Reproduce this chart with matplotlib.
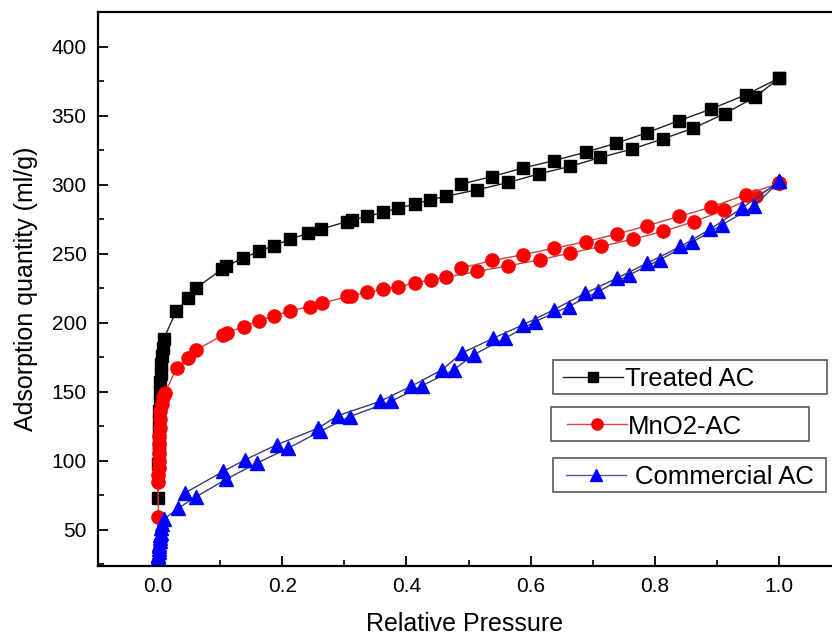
import matplotlib.pyplot as plt
from matplotlib.patches import Rectangle
from matplotlib.lines import Line2D
from matplotlib.ticker import MultipleLocator

plt.rcParams['font.family'] = ['Liberation Sans', 'DejaVu Sans']

# Treated AC
treated_ads_x = [0.0005, 0.0008, 0.001, 0.0013, 0.0016, 0.002, 0.0024, 0.0028, 0.0032, 0.0038,
                 0.0045, 0.0055, 0.0065, 0.0078, 0.009,
                 0.029, 0.048, 0.061, 0.103, 0.110, 0.137, 0.162, 0.187, 0.213, 0.242, 0.262,
                 0.305, 0.312, 0.337, 0.363, 0.387, 0.414, 0.438, 0.463, 0.514, 0.564, 0.614,
                 0.663, 0.712, 0.763, 0.813, 0.862, 0.912, 0.961, 1.0]
treated_ads_y = [73, 98, 106, 113, 121, 128, 136, 143, 150, 157, 163, 170, 176, 182, 188,
                 208.2, 217.9, 225, 238.9, 241, 246.9, 251.7, 256, 260.6, 265, 267.9,
                 273.4, 274.6, 277.1, 280.2, 283.1, 286, 289.1, 291.6, 296.4, 301.7, 308,
                 313.3, 319.8, 325.9, 333.3, 341.1, 351.5, 363.5, 377.3]
treated_des_x = [1.0, 0.946, 0.89, 0.838, 0.788, 0.738, 0.689, 0.638, 0.587, 0.538, 0.488]
treated_des_y = [377.3, 365.2, 354.8, 346.4, 337.9, 330.2, 323.7, 317.6, 312.1, 306, 300.5]

# MnO2-AC
mno2_ads_x = [0.0003, 0.0006, 0.0008, 0.001, 0.0013, 0.0016, 0.002, 0.0024, 0.0028, 0.0033,
              0.004, 0.006, 0.008, 0.011,
              0.030, 0.049, 0.062, 0.105, 0.111, 0.138, 0.162, 0.187, 0.213, 0.244, 0.264,
              0.305, 0.311, 0.337, 0.363, 0.387, 0.414, 0.44, 0.464, 0.514, 0.564, 0.615,
              0.663, 0.713, 0.764, 0.813, 0.863, 0.911, 0.963, 1.0]
mno2_ads_y = [59, 85, 90, 95, 100, 106, 112, 118, 124, 130, 136, 141, 146, 149,
              167.2, 174.4, 180.4, 191.3, 192.8, 197.3, 201.4, 205, 208.7, 211.8, 214.2,
              219.1, 219.6, 222, 224.4, 226.3, 228.8, 231.2, 233.1, 237.2, 241.3, 245.7,
              250.5, 255.3, 260.6, 266.2, 273.4, 281.4, 291.6, 301.2]
mno2_des_x = [1.0, 0.946, 0.89, 0.839, 0.788, 0.739, 0.689, 0.638, 0.587, 0.538, 0.488]
mno2_des_y = [301.2, 292.8, 283.8, 277.1, 270.5, 264.3, 258.9, 254.1, 249.3, 245.2, 239.6]

# Commercial AC
comm_ads_x = [0.0001, 0.0003, 0.0005, 0.0008, 0.001, 0.0013, 0.0016, 0.002, 0.0025, 0.003,
              0.0036, 0.0045, 0.0055, 0.007, 0.01,
              0.033, 0.062, 0.11, 0.159, 0.21, 0.261, 0.309, 0.375, 0.425, 0.476, 0.508,
              0.559, 0.607, 0.661, 0.709, 0.759, 0.808, 0.859, 0.908, 0.959, 1.0]
comm_ads_y = [26, 28, 30, 32, 34, 36, 38, 40, 42, 44, 46, 48, 51, 54, 58,
              65.7, 74.1, 86.7, 98.3, 109.2, 121.3, 132.1, 143, 154.4, 165.9, 176.8,
              188.9, 200.9, 211.8, 222.7, 234.8, 245.7, 258.2, 271, 284.3, 302.4]
comm_des_x = [1.0, 0.94, 0.889, 0.841, 0.788, 0.739, 0.688, 0.637, 0.588, 0.54, 0.489,
              0.457, 0.407, 0.357, 0.29, 0.258, 0.191, 0.14, 0.105, 0.043]
comm_des_y = [302.4, 283.1, 267.9, 255.3, 243.3, 232.4, 221.5, 209.4, 198.6, 188.9, 178,
              165.9, 153.9, 143, 132.8, 123.7, 111.6, 100.7, 92.3, 76.6]

W, H = 832, 642
fig = plt.figure(figsize=(W / 100, H / 100), dpi=100)
ax = fig.add_axes([97.7 / W, 1 - 565.7 / H, 1 - 97.7 / W, (565.7 - 12.3) / H])

ax.plot(treated_ads_x, treated_ads_y, color='#222222', lw=1, marker='s', ms=9,
        mfc='black', mec='black')
ax.plot(treated_des_x, treated_des_y, color='#222222', lw=1, marker='s', ms=9,
        mfc='black', mec='black')
ax.plot(mno2_ads_x, mno2_ads_y, color='#cc4444', lw=1, marker='o', ms=9.5,
        mfc='#ff0000', mec='#ff0000')
ax.plot(mno2_des_x, mno2_des_y, color='#cc4444', lw=1, marker='o', ms=9.5,
        mfc='#ff0000', mec='#ff0000')
ax.plot(comm_ads_x, comm_ads_y, color='#3a3a7a', lw=1, marker='^', ms=10,
        mfc='#0000ff', mec='#0000ff')
ax.plot(comm_des_x, comm_des_y, color='#3a3a7a', lw=1, marker='^', ms=10,
        mfc='#0000ff', mec='#0000ff')

ax.set_xlim(-0.097, 1.085)
ax.set_ylim(24, 425)
ax.xaxis.set_major_locator(MultipleLocator(0.2))
ax.xaxis.set_minor_locator(MultipleLocator(0.1))
ax.yaxis.set_major_locator(MultipleLocator(50))
ax.yaxis.set_minor_locator(MultipleLocator(25))
ax.set_yticks(range(50, 401, 50))
ax.set_xticks([0.0, 0.2, 0.4, 0.6, 0.8, 1.0])
ax.set_xticklabels(['0.0', '0.2', '0.4', '0.6', '0.8', '1.0'])
ax.tick_params(which='major', direction='in', length=7, width=1.3, labelsize=15, pad=8)
ax.tick_params(which='minor', direction='in', length=4, width=1.2)
ax.spines['right'].set_visible(False)
for s in ['left', 'bottom', 'top']:
    ax.spines[s].set_linewidth(1.6)

ax.set_xlabel('Relative Pressure', fontsize=18, labelpad=12)
ax.set_ylabel('Adsorption quantity (ml/g)', fontsize=18, labelpad=10)

# separate legend boxes as in the original
legend_items = [
    ('Treated AC', 's', 'black', '#222222', 9, (553, 360, 827, 394), (563, 623), 625),
    ('MnO2-AC', 'o', '#ff0000', '#dd4444', 9.5, (551, 407, 809, 441), (567, 627), 628),
    ('Commercial AC', '^', '#0000ff', '#5555aa', 10, (553, 458, 826, 492), (566, 626), 635),
]
for label, mk, mcol, lcol, ms, box, hx, tx in legend_items:
    x0, y0, x1, y1 = box
    fig.add_artist(Rectangle((x0 / W, 1 - y1 / H), (x1 - x0) / W, (y1 - y0) / H,
                             transform=fig.transFigure, fill=False,
                             edgecolor='#666666', lw=1.3))
    yc = 1 - (y0 + y1) / 2 / H
    fig.add_artist(Line2D([hx[0] / W, hx[1] / W], [yc, yc], color=lcol, lw=1,
                          transform=fig.transFigure))
    fig.add_artist(Line2D([(hx[0] + hx[1]) / 2 / W], [yc], marker=mk, ms=ms * 0.85,
                          color=mcol, transform=fig.transFigure))
    fig.text(tx / W, yc, label, fontsize=18.5, va='center_baseline', ha='left')

fig.savefig('out.png', dpi=100)
